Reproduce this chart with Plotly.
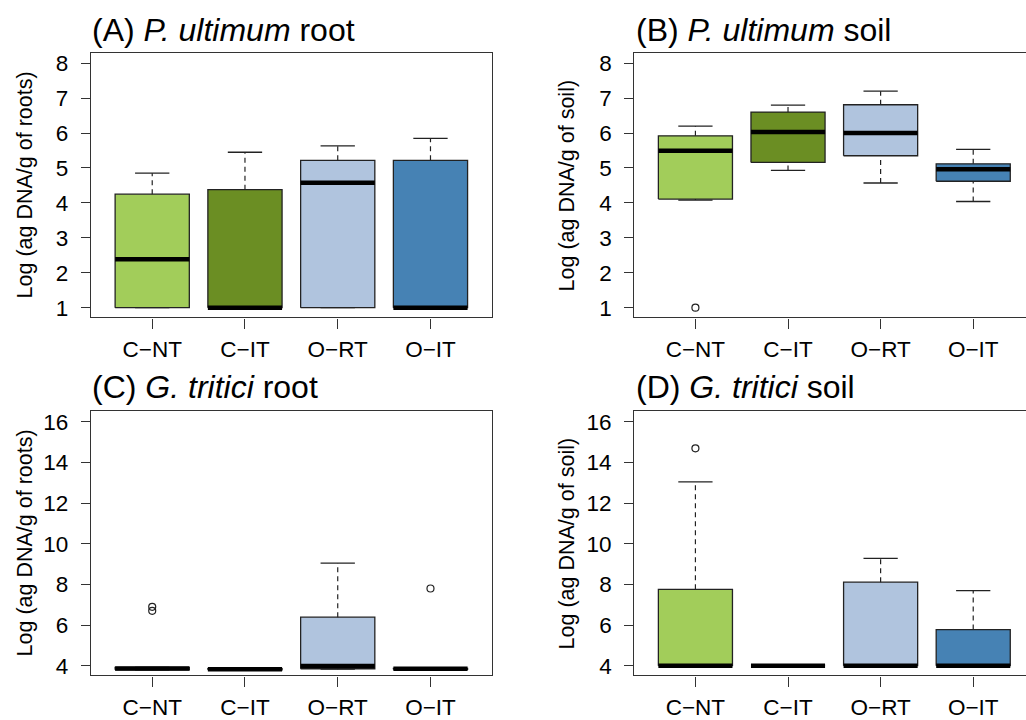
import plotly.graph_objects as go

# ---------------- data ----------------
categories = ["C−NT", "C−IT", "O−RT", "O−IT"]
box_colors = ["#A2CD5A", "#6B8E23", "#B0C4DE", "#4682B4"]

# (A) P. ultimum root
A_low = [1.0, 1.0, 1.0, 1.0]
A_q1 = [1.0, 1.0, 1.0, 1.0]
A_med = [2.39, 1.0, 4.58, 1.0]
A_q3 = [4.25, 4.38, 5.22, 5.22]
A_high = [4.85, 5.45, 5.63, 5.85]
A_out = [[], [], [], []]

# (B) P. ultimum soil
B_low = [4.08, 4.93, 4.57, 4.04]
B_q1 = [4.11, 5.16, 5.35, 4.62]
B_med = [5.49, 6.03, 6.0, 4.96]
B_q3 = [5.92, 6.60, 6.81, 5.12]
B_high = [6.20, 6.80, 7.20, 5.53]
B_out = [[1.0], [], [], []]

# (C) G. tritici root
C_low = [3.80, 3.80, 3.83, 3.82]
C_q1 = [3.80, 3.80, 3.85, 3.82]
C_med = [3.86, 3.82, 3.98, 3.85]
C_q3 = [3.92, 3.86, 6.39, 3.87]
C_high = [3.92, 3.90, 9.05, 3.87]
C_out = [[6.70, 6.90], [], [], [7.80]]

# (D) G. tritici soil
D_low = [4.0, 4.0, 4.0, 4.0]
D_q1 = [4.0, 4.0, 4.0, 4.0]
D_med = [4.0, 4.0, 4.0, 4.0]
D_q3 = [7.76, 4.0, 8.11, 5.78]
D_high = [13.05, 4.0, 9.28, 7.70]
D_out = [[14.70], [], [], []]

A_ticks = [1, 2, 3, 4, 5, 6, 7, 8]
C_ticks = [4, 6, 8, 10, 12, 14, 16]

# ---------------- layout helpers ----------------
W, H = 1026, 720
def px(v):
    return v / W
def py(v):
    return 1 - v / H

FONT = "Liberation Sans"
FRAME = "#333333"
BOXW = 0.4     # half box width
CAPW = 0.185   # half staple width

panels = [
    dict(n="", low=A_low, q1=A_q1, med=A_med, q3=A_q3, high=A_high, out=A_out,
         xd=[px(91), px(491.7)], yd=[py(319), py(52)], xr=[0.34, 4.66],
         yr=[0.72, 8.28], ticks=A_ticks, title="(A) <i>P. ultimum</i> root",
         tx=90, ty=28, ytitle="Log (ag DNA/g of roots)", atx=25, aty=185.5, right=False),
    dict(n="2", low=B_low, q1=B_q1, med=B_med, q3=B_q3, high=B_high, out=B_out,
         xd=[px(634.3), 1.0], yd=[py(319), py(52)], xr=[0.34, 4.57],
         yr=[0.72, 8.28], ticks=A_ticks, title="(B) <i>P. ultimum</i> soil",
         tx=634, ty=28, ytitle="Log (ag DNA/g of soil)", atx=567, aty=185.5, right=True),
    dict(n="3", low=C_low, q1=C_q1, med=C_med, q3=C_q3, high=C_high, out=C_out,
         xd=[px(91), px(491.7)], yd=[py(681), py(414)], xr=[0.34, 4.66],
         yr=[3.52, 16.52], ticks=C_ticks, title="(C) <i>G. tritici</i> root",
         tx=90, ty=389, ytitle="Log (ag DNA/g of roots)", atx=25, aty=547.5, right=False),
    dict(n="4", low=D_low, q1=D_q1, med=D_med, q3=D_q3, high=D_high, out=D_out,
         xd=[px(634.3), 1.0], yd=[py(681), py(414)], xr=[0.34, 4.57],
         yr=[3.52, 16.52], ticks=C_ticks, title="(D) <i>G. tritici</i> soil",
         tx=634, ty=389, ytitle="Log (ag DNA/g of soil)", atx=567, aty=547.5, right=True),
]

fig = go.Figure()
annotations = []
layout_axes = {}

for p in panels:
    xa = "x" + p["n"]
    ya = "y" + p["n"]
    for i, cat in enumerate(categories):
        c = i + 1
        # box
        fig.add_trace(go.Scatter(
            x=[c - BOXW, c + BOXW, c + BOXW, c - BOXW, c - BOXW],
            y=[p["q1"][i], p["q1"][i], p["q3"][i], p["q3"][i], p["q1"][i]],
            mode="lines", fill="toself", fillcolor=box_colors[i],
            line=dict(color="#222222", width=1.3), xaxis=xa, yaxis=ya,
            showlegend=False, hoverinfo="skip"))
        # whiskers (dashed)
        for a, b in ((p["q3"][i], p["high"][i]), (p["low"][i], p["q1"][i])):
            if b > a:
                fig.add_trace(go.Scatter(
                    x=[c, c], y=[a, b], mode="lines",
                    line=dict(color="#222222", width=1.2, dash="5px,4px"),
                    xaxis=xa, yaxis=ya, showlegend=False, hoverinfo="skip"))
        # staples
        for v in (p["high"][i], p["low"][i]):
            fig.add_trace(go.Scatter(
                x=[c - CAPW, c + CAPW], y=[v, v], mode="lines",
                line=dict(color="#222222", width=1.3),
                xaxis=xa, yaxis=ya, showlegend=False, hoverinfo="skip"))
        # median
        fig.add_trace(go.Scatter(
            x=[c - BOXW, c + BOXW], y=[p["med"][i], p["med"][i]], mode="lines",
            line=dict(color="black", width=4.5),
            xaxis=xa, yaxis=ya, showlegend=False, hoverinfo="skip"))
        # outliers
        if p["out"][i]:
            fig.add_trace(go.Scatter(
                x=[c] * len(p["out"][i]), y=p["out"][i], mode="markers",
                marker=dict(symbol="circle-open", size=7, color="#222222",
                            line=dict(width=1.2)),
                xaxis=xa, yaxis=ya, showlegend=False, hoverinfo="skip"))

    xkey = "xaxis" + p["n"]
    ykey = "yaxis" + p["n"]
    layout_axes[xkey] = dict(
        domain=p["xd"], range=p["xr"], anchor=ya,
        tickmode="array", tickvals=[1, 2, 3, 4], ticktext=categories,
        ticks="outside", ticklen=10, tickwidth=1.2, tickcolor=FRAME,
        showline=True, linecolor=FRAME, linewidth=1.3, mirror=True,
        showgrid=False, zeroline=False, fixedrange=True,
        tickfont=dict(family=FONT, size=22.5, color="black"),
        ticklabelstandoff=1)
    layout_axes[ykey] = dict(
        domain=p["yd"], range=p["yr"], anchor=xa,
        tickmode="array", tickvals=p["ticks"],
        ticks="outside", ticklen=9, tickwidth=1.2, tickcolor=FRAME,
        showline=True, linecolor=FRAME, linewidth=1.3,
        mirror=(not p["right"]),
        showgrid=False, zeroline=False, fixedrange=True,
        tickfont=dict(family=FONT, size=22.5, color="black"),
        ticklabelstandoff=8)

    annotations.append(dict(
        text=p["title"], x=px(p["tx"]), y=py(p["ty"]), xref="paper", yref="paper",
        xanchor="left", yanchor="middle", showarrow=False,
        font=dict(family=FONT, size=32, color="black")))
    annotations.append(dict(
        text=p["ytitle"], x=px(p["atx"]), y=py(p["aty"]), xref="paper", yref="paper",
        xanchor="center", yanchor="middle", textangle=-90, showarrow=False,
        font=dict(family=FONT, size=21.5, color="black")))

fig.update_layout(
    width=W, height=H, autosize=False,
    margin=dict(l=0, r=0, t=0, b=0),
    paper_bgcolor="white", plot_bgcolor="white",
    annotations=annotations, showlegend=False,
    **layout_axes)

fig.write_html(
    "out.html",
    config=dict(displayModeBar=False),
    post_script="document.body.style.margin='0';document.body.style.overflow='hidden';")
